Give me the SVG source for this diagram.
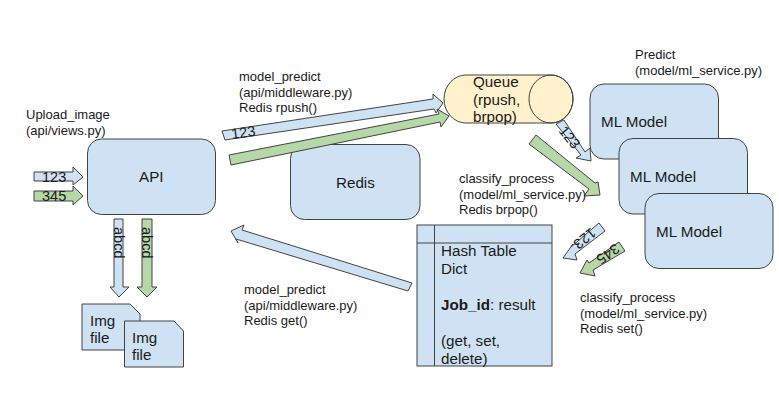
<svg xmlns="http://www.w3.org/2000/svg" width="779" height="400" viewBox="0 0 779 400">
<style>
text{font-family:"Liberation Sans",Arial,sans-serif;fill:#1a1a1a}
.n{font-size:15.2px}.l{font-size:13px}.a{font-size:14.5px}
.b{fill:#cfe2f3;stroke:#434343;stroke-width:1}
.g{fill:#b6d7a8;stroke:#434343;stroke-width:1}
.y{fill:#fff2cc;stroke:#434343;stroke-width:1}
.s{fill:none;stroke:#434343;stroke-width:1}
</style>
<rect width="779" height="400" fill="#fff"/>
<g id="redis"><rect class="b" x="290.500" y="144.500" width="129.500" height="75" rx="14"/><text class="n" x="336" y="188">Redis</text></g>
<g id="api"><rect class="b" x="87.500" y="139" width="128" height="75.500" rx="14"/><text class="n" x="139" y="182">API</text></g>
<g id="queue"><path class="y" d="M466 75H551A22 24 0 0 1 551 123H466A22 24 0 0 1 466 75Z"/><ellipse class="s" cx="551" cy="99" rx="22" ry="24"/><text class="n"><tspan x="473" y="87">Queue</tspan><tspan x="473" y="104.500">(rpush,</tspan><tspan x="473" y="122">brpop)</tspan></text></g>
<g id="ml-model-1"><rect class="b" x="590" y="84" width="128.500" height="75" rx="14"/><text class="n" x="601" y="127">ML Model</text></g>
<g id="ml-model-2"><rect class="b" x="619" y="138.500" width="128.500" height="75.500" rx="14"/><text class="n" x="630" y="182">ML Model</text></g>
<g id="ml-model-3"><rect class="b" x="645" y="193.500" width="128" height="75" rx="14"/><text class="n" x="656" y="237">ML Model</text></g>
<g id="hash-table"><rect class="b" x="417" y="225" width="135" height="141"/><path class="s" d="M434.500 225V366M417 243H552"/><text class="n"><tspan x="441" y="256">Hash Table</tspan><tspan x="441" y="274">Dict</tspan><tspan x="441" y="310" font-weight="bold">Job_id</tspan><tspan>: result</tspan><tspan x="441" y="346">(get, set,</tspan><tspan x="441" y="364">delete)</tspan></text></g>
<g id="img-file-1"><path class="b" d="M82 304H130L140 314V350H82Z"/><text class="n"><tspan x="90" y="326">Img</tspan><tspan x="90" y="343">file</tspan></text></g>
<g id="img-file-2"><path class="b" d="M124.500 321H174L183.500 331V367H124.500Z"/><text class="n"><tspan x="132" y="343">Img</tspan><tspan x="132" y="360">file</tspan></text></g>
<g id="connectors">
<path class="b" d="M34 172H73V167L83 177L73 185V181H34Z"/>
<path class="g" d="M34 191H73V186L83 196L73 205V201H34Z"/>
<path class="b" d="M114 219H123V287H129L119 297L110 287H114Z"/>
<path class="g" d="M142 219H152V287H157L147 297L137 287H142Z"/>
<path class="b" d="M222 131L433 99L433 94L443 103L436 113L434 109L225 140Z"/>
<path class="g" d="M229 155L439 114L437 109L449 116L441 127L440 122L231 165Z"/>
<path class="b" d="M408 291L236 239L238 243L231 231L244 225L242 230L412 283Z"/>
<path class="b" d="M556 124L564 120L585 152L590 148L591 161L576 158L581 155Z"/>
<path class="g" d="M529 144L536 135L595 183L598 182L600 195L584 196L589 189Z"/>
<path class="b" d="M599 223L605 231L575 254L577 260L563 258L573 244L571 247Z"/>
<path class="g" d="M619 242L625 251L593 270L595 276L580 273L587 260L589 263Z"/>
<text class="a" x="42" y="182">123</text>
<text class="a" x="42" y="201">345</text>
<text class="a" transform="translate(114 227) rotate(90)">abcd</text>
<text class="a" transform="translate(142 227) rotate(90)">abcd</text>
<text class="a" transform="translate(232 139) rotate(-8)">123</text>
<text class="a" transform="translate(558 131) rotate(51)">123</text>
<text class="a" transform="translate(591 227) rotate(141)">123</text>
<text class="a" transform="translate(615 243) rotate(145)">345</text>
</g>
<g id="labels">
<text class="l"><tspan x="26" y="119">Upload_image</tspan><tspan x="26" y="134.500">(api/views.py)</tspan></text>
<text class="l"><tspan x="239" y="81">model_predict</tspan><tspan x="239" y="96.500">(api/middleware.py)</tspan><tspan x="239" y="112">Redis rpush()</tspan></text>
<text class="l"><tspan x="635" y="59">Predict</tspan><tspan x="635" y="74.500">(model/ml_service.py)</tspan></text>
<text class="l"><tspan x="459" y="183">classify_process</tspan><tspan x="459" y="198.500">(model/ml_service.py)</tspan><tspan x="459" y="214">Redis brpop()</tspan></text>
<text class="l"><tspan x="244" y="294">model_predict</tspan><tspan x="244" y="309.500">(api/middleware.py)</tspan><tspan x="244" y="325">Redis get()</tspan></text>
<text class="l"><tspan x="580" y="302">classify_process</tspan><tspan x="580" y="317.500">(model/ml_service.py)</tspan><tspan x="580" y="333">Redis set()</tspan></text>
</g>
</svg>
